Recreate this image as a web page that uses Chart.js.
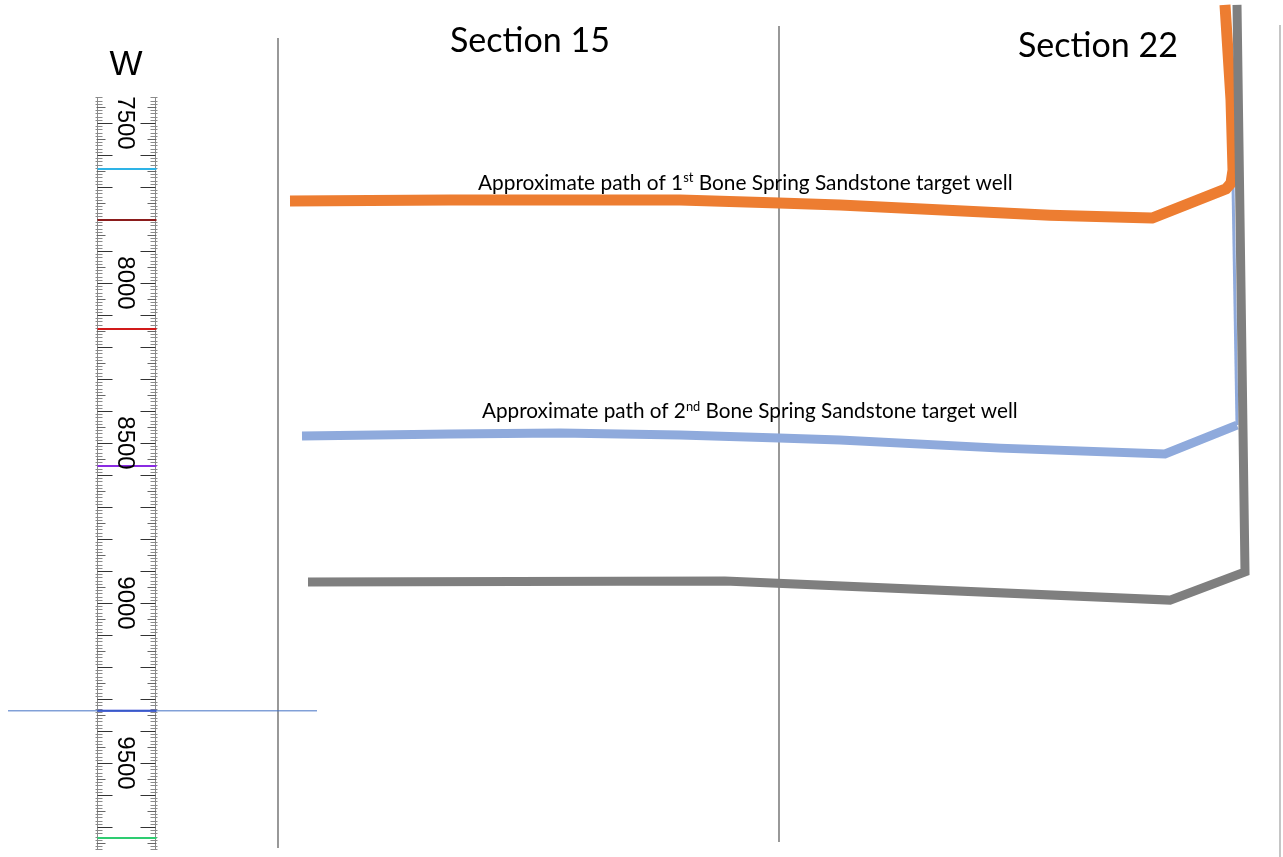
<!DOCTYPE html>
<html>
<head>
<meta charset="utf-8">
<script src="https://cdn.jsdelivr.net/npm/chart.js@4.4.0/dist/chart.umd.min.js"></script>
<style>
  html, body { margin: 0; padding: 0; background: #fff; }
  #wrap { position: relative; width: 1283px; height: 857px; }
</style>
</head>
<body>
<div id="wrap"><canvas id="xsec"></canvas></div>
<script>
/* ============================================================
   CROSS SECTION — well paths vs. depth, drawn with Chart.js
   x = lateral position (plot units), y = depth (ft)
   ============================================================ */

// ---- 1st Bone Spring Sandstone target well ----
const well1X     = [290, 450, 680, 779, 840, 1050, 1152, 1226, 1231, 1233, 1231, 1225];
const well1Depth = [7744, 7741, 7741, 7750, 7756, 7788, 7797, 7706, 7688, 7647, 7428, 7131];

// ---- 2nd Bone Spring Sandstone target well ----
const well2X     = [302, 450, 560, 680, 779, 840, 1000, 1165, 1237];
const well2Depth = [8478, 8472, 8469, 8475, 8484, 8491, 8516, 8534, 8444];
const well2VertX     = [1237, 1233];
const well2VertDepth = [8444, 7694];

// ---- deeper (gray) well ----
const well3X     = [308, 725, 1170, 1245, 1237];
const well3Depth = [8934, 8931, 8991, 8903, 7131];

// ---- section boundary lines ----
const sectionX      = [278, 779, 1280];
const sectionTop    = [7234, 7197, 7194];
const sectionBottom = [9766, 9747, 9794];

// ---- horizontal marker across the log ----
const markerLineX = [8, 317];
const markerLineDepth = 9337;

// ---- depth log (left) ----
const logTop = 7420;
const logBottom = 9770;
const logLabels = [7500, 8000, 8500, 9000, 9500];
const logMarkerDepths = [7644, 7803, 8144, 8572, 9337, 9734];
const logMarkerColors = ['#2eb3e6', '#8b1c1c', '#d11a1a', '#8a2be2', '#1f2fd0', '#2ecc71'];

const sectionLabels = ['Section 15', 'Section 22'];

const toPoints = (xs, ds) => xs.map((x, i) => ({ x, y: ds[i] }));

function path(label, xs, ds, color, width, join = 'miter') {
  return {
    label,
    data: toPoints(xs, ds),
    showLine: true,
    borderColor: color,
    backgroundColor: color,
    borderWidth: width,
    borderCapStyle: 'butt',
    borderJoinStyle: join,
    pointRadius: 0,
    tension: 0,
  };
}

// Draws "normal" and superscript runs fitted to a target width
function drawRich(ctx, parts, x, baseline, width, family) {
  const base = 20;
  const measure = size => parts.reduce((w, p) => {
    ctx.font = `${p.sup ? size * 0.62 : size}px ${family}`;
    return w + ctx.measureText(p.text).width;
  }, 0);
  const size = base * width / measure(base);
  let cx = x;
  parts.forEach(p => {
    const s = p.sup ? size * 0.62 : size;
    ctx.font = `${s}px ${family}`;
    ctx.fillText(p.text, cx, p.sup ? baseline - size * 0.36 : baseline);
    cx += ctx.measureText(p.text).width;
  });
}

const depthLogPlugin = {
  id: 'depthLog',
  beforeDatasetsDraw(chart) {
    const { ctx, scales: { x, y } } = chart;
    const left = Math.round(x.getPixelForValue(97)) + 0.5;
    const right = Math.round(x.getPixelForValue(155)) + 0.5;
    const top = y.getPixelForValue(logTop);
    const bottom = y.getPixelForValue(logBottom);
    ctx.save();

    // side rails
    ctx.strokeStyle = '#8a8a8a';
    ctx.lineWidth = 1;
    ctx.beginPath();
    ctx.moveTo(left, top); ctx.lineTo(left, bottom);
    ctx.moveTo(right, top); ctx.lineTo(right, bottom);
    ctx.stroke();

    // ticks every 10 ft
    for (let d = logTop; d <= logBottom; d += 10) {
      const py = Math.round(y.getPixelForValue(d)) + 0.5;
      let len = 7, color = '#8a8a8a', off = 2;
      if (d % 100 === 0) { len = 15; color = '#333'; off = 0; }
      else if (d % 50 === 0) { len = 9; color = '#666'; off = 1; }
      ctx.strokeStyle = color;
      ctx.beginPath();
      ctx.moveTo(left - off, py); ctx.lineTo(left - off + len, py);
      ctx.moveTo(right + off, py); ctx.lineTo(right + off - len, py);
      ctx.stroke();
    }

    // coloured formation markers
    ctx.lineWidth = 2;
    logMarkerDepths.forEach((d, i) => {
      const py = y.getPixelForValue(d);
      ctx.strokeStyle = logMarkerColors[i];
      ctx.beginPath();
      ctx.moveTo(left, py); ctx.lineTo(right + 1, py);
      ctx.stroke();
    });

    // rotated depth labels
    ctx.fillStyle = '#000';
    ctx.font = "24px 'Liberation Sans', Arial, sans-serif";
    ctx.textAlign = 'center';
    ctx.textBaseline = 'middle';
    const cx = (left + right) / 2 - 1;
    logLabels.forEach(d => {
      ctx.save();
      ctx.translate(cx, y.getPixelForValue(d));
      ctx.rotate(Math.PI / 2);
      ctx.fillText(String(d), 0, 1);
      ctx.restore();
    });
    ctx.restore();
  }
};

const labelsPlugin = {
  id: 'labels',
  afterDraw(chart) {
    const { ctx } = chart;
    ctx.save();
    ctx.fillStyle = '#000';
    ctx.textBaseline = 'alphabetic';

    ctx.font = "35px 'Liberation Sans', Arial, sans-serif";
    ctx.textAlign = 'center';
    ctx.fillText('W', 126, 75);
    ctx.textAlign = 'left';

    drawRich(ctx, [{ text: sectionLabels[0] }], 450, 52, 160, 'Lato, sans-serif');
    drawRich(ctx, [{ text: sectionLabels[1] }], 1018, 57, 160, 'Lato, sans-serif');

    drawRich(ctx, [
      { text: 'Approximate path of 1' }, { text: 'st', sup: true },
      { text: ' Bone Spring Sandstone target well' }
    ], 478, 190, 535, 'Lato, sans-serif');
    drawRich(ctx, [
      { text: 'Approximate path of 2' }, { text: 'nd', sup: true },
      { text: ' Bone Spring Sandstone target well' }
    ], 482, 418, 536, 'Lato, sans-serif');
    ctx.restore();
  }
};

const sectionDatasets = sectionX.map((sx, i) =>
  path('Section line ' + (i + 1), [sx, sx], [sectionTop[i], sectionBottom[i]], i === 2 ? '#a0a0a0' : '#555', 1.2));

new Chart(document.getElementById('xsec'), {
  type: 'scatter',
  data: {
    datasets: [
      path('Gray well', well3X, well3Depth, '#7f7f7f', 9),
      path('1st Bone Spring', well1X, well1Depth, '#ed7d31', 11, 'round'),
      path('2nd Bone Spring', well2X, well2Depth, '#8faadc', 9),
      path('2nd Bone Spring vertical', well2VertX, well2VertDepth, '#8faadc', 3),
      path('Marker', markerLineX, [markerLineDepth, markerLineDepth], '#4472c4', 1),
      ...sectionDatasets,
    ]
  },
  options: {
    responsive: true,
    maintainAspectRatio: false,
    animation: false,
    events: [],
    layout: { padding: 0 },
    plugins: { legend: { display: false }, tooltip: { enabled: false } },
    scales: {
      x: { type: 'linear', display: false, min: 0, max: 1283 },
      y: { type: 'linear', display: false, reverse: true, min: 7115.625, max: 9793.75 }
    }
  },
  plugins: [depthLogPlugin, labelsPlugin]
});
</script>
</body>
</html>
